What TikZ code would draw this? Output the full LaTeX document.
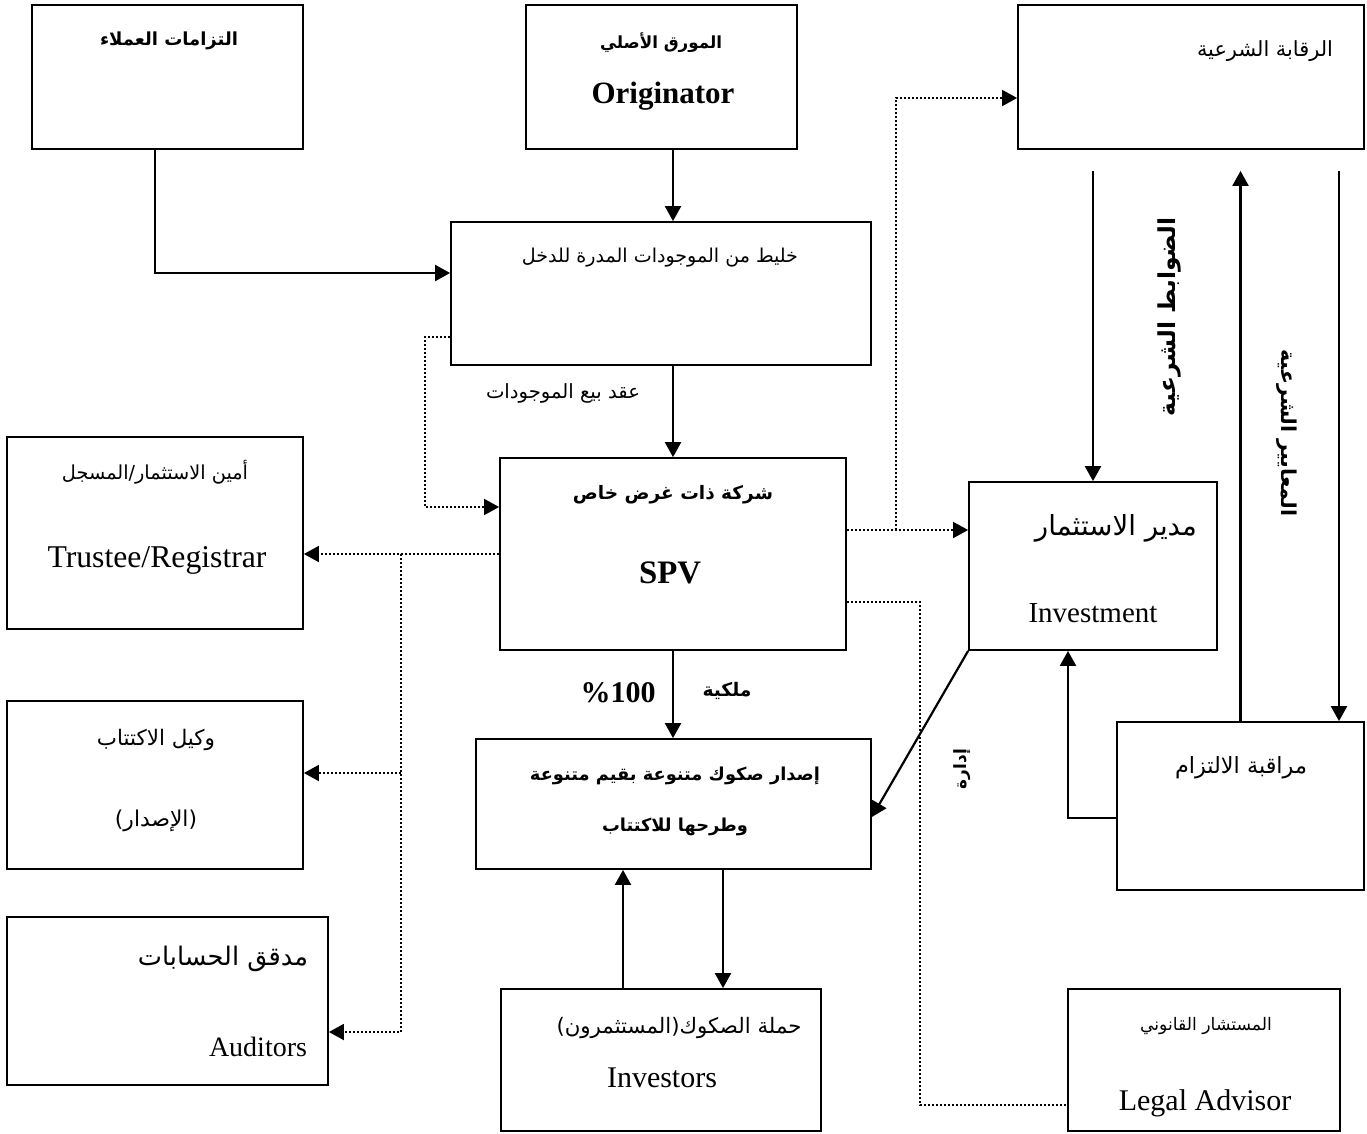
\documentclass[tikz,border=0pt]{standalone}
\usepackage{fontspec}
\usepackage{graphicx}
\setmainfont{Liberation Serif}
\newfontfamily\arabicfont[Script=Arabic]{DejaVu Sans}
\TeXXeTstate=1
\usetikzlibrary{arrows.meta,calc}

% Arabic labels, scaled to a given width
\newcommand\artxt[2]{\resizebox{#1}{!}{\arabicfont #2}}
\newcommand\artxtb[2]{\resizebox{#1}{!}{\arabicfont\bfseries #2}}

\tikzset{
  box/.style={draw, line width=1.8pt, inner sep=0pt, anchor=center},
  conn/.style={line width=2.2pt, -{Triangle[length=15pt,width=16pt]}},
  dots/.style={line width=1.8pt, dash pattern=on 1.8pt off 2.2pt},
  dotarrow/.style={dots, -{Triangle[length=15pt,width=16pt]}},
  lbl/.style={inner sep=0pt},
}

\begin{document}
\begin{tikzpicture}[x=1pt, y=-1pt]
\useasboundingbox[fill=white] (0,0) rectangle (1367,1133);

% ---- boxes ----
\node[box, minimum width=271pt, minimum height=144pt] (cust)  at (167.5,77)   {};
\node[box, minimum width=271pt, minimum height=144pt] (orig)  at (661.5,77)   {};
\node[box, minimum width=346pt, minimum height=144pt] (shar)  at (1191,77)    {};
\node[box, minimum width=420pt, minimum height=143pt] (pool)  at (661,293.5)  {};
\node[box, minimum width=346pt, minimum height=192pt] (spv)   at (673,554)    {};
\node[box, minimum width=248pt, minimum height=168pt] (invm)  at (1093,566)   {};
\node[box, minimum width=296pt, minimum height=192pt] (trus)  at (155,533)    {};
\node[box, minimum width=296pt, minimum height=168pt] (subs)  at (155,785)    {};
\node[box, minimum width=321pt, minimum height=168pt] (audi)  at (167.5,1001) {};
\node[box, minimum width=395pt, minimum height=130pt] (issu)  at (673.5,804)  {};
\node[box, minimum width=320pt, minimum height=142pt] (inv)   at (661,1060)   {};
\node[box, minimum width=272pt, minimum height=142pt] (legal) at (1204,1060)  {};
\node[box, minimum width=247pt, minimum height=168pt] (comp)  at (1240.5,806) {};

% ---- texts ----
\node[lbl] (tcust) at (169,41) {\artxtb{138pt}{\beginR التزامات العملاء\endR}};
\node[lbl] (torig1) at (661,43) {\artxtb{122pt}{\beginR المورق الأصلي\endR}};
\node[lbl, anchor=base] (torig2) at (663,103) {\fontsize{31}{36}\selectfont\bfseries Originator};
\node[lbl] (tshar) at (1265,51) {\artxt{136pt}{\beginR الرقابة الشرعية\endR}};
\node[lbl] (tpool) at (660,258) {\artxt{276pt}{\beginR خليط من الموجودات المدرة للدخل\endR}};
\node[lbl] (tsale) at (563,393) {\artxt{154pt}{\beginR عقد بيع الموجودات\endR}};
\node[lbl] (tspv1) at (673,495) {\artxtb{200pt}{\beginR شركة ذات غرض خاص\endR}};
\node[lbl, anchor=base] (tspv2) at (670,583) {\fontsize{32.8}{38}\selectfont\bfseries SPV};
\node[lbl] (town) at (727,691) {\artxtb{49pt}{\beginR ملكية\endR}};
\node[lbl, anchor=base] (tpct) at (618,702) {\fontsize{30}{36}\selectfont\bfseries \%100};
\node[lbl] (tinvm1) at (1116,528) {\artxt{162pt}{\beginR مدير الاستثمار\endR}};
\node[lbl, anchor=base] (tinvm2) at (1093,622) {\fontsize{29}{34}\selectfont Investment};
\node[lbl] (ttrus1) at (155,472) {\artxt{186pt}{\beginR أمين الاستثمار/المسجل\endR}};
\node[lbl, anchor=base] (ttrus2) at (157,567) {\fontsize{31.7}{36}\selectfont Trustee/Registrar};
\node[lbl] (tsubs1) at (156,740) {\artxt{118pt}{\beginR وكيل الاكتتاب\endR}};
\node[lbl] (tsubs2) at (156,821) {\artxt{82pt}{\beginR (الإصدار)\endR}};
\node[lbl] (taud1) at (223,959) {\artxt{170pt}{\beginR مدقق الحسابات\endR}};
\node[lbl, anchor=base] (taud2) at (258,1056) {\fontsize{28}{34}\selectfont Auditors};
\node[lbl] (tissu1) at (675,776) {\artxtb{290pt}{\beginR إصدار صكوك متنوعة بقيم متنوعة\endR}};
\node[lbl] (tissu2) at (675,827) {\artxtb{146pt}{\beginR وطرحها للاكتتاب\endR}};
\node[lbl] (tinv1) at (679,1028) {\artxt{245pt}{\beginR حملة الصكوك(المستثمرون)\endR}};
\node[lbl, anchor=base] (tinv2) at (662,1087) {\fontsize{30}{36}\selectfont Investors};
\node[lbl] (tcomp) at (1241,768) {\artxt{132pt}{\beginR مراقبة الالتزام\endR}};
\node[lbl] (tlegal1) at (1206,1026) {\artxt{132pt}{\beginR المستشار القانوني\endR}};
\node[lbl, anchor=base] (tlegal2) at (1205,1110) {\fontsize{30}{36}\selectfont Legal Advisor};
\node[lbl, rotate=90] (tctrl) at (1169,317) {\artxtb{199pt}{\beginR الضوابط الشرعية\endR}};
\node[lbl, rotate=-90] (tstd) at (1287,433) {\artxtb{167pt}{\beginR المعايير الشرعية\endR}};
\node[lbl, rotate=90] (tmgmt) at (962,769) {\artxtb{40pt}{\beginR إدارة\endR}};

% ---- solid connectors ----
\draw[conn] ([xshift=-12.5pt]cust.south) |- ([yshift=20.5pt]pool.west);
\coordinate (pt) at ([xshift=12pt]pool.north);
\draw[conn] (pt |- orig.south) -- (pt);
\draw[conn] (pool.south -| spv.north) -- (spv.north);
\draw[conn] (spv.south) -- (spv.south |- issu.north);
\draw[conn] (invm.south west) -- ([yshift=-13pt]issu.east);
\coordinate (i1) at ([xshift=-38pt]inv.north);
\draw[conn] (i1) -- (i1 |- issu.south);
\coordinate (i2) at ([xshift=62pt]inv.north);
\draw[conn] (i2 |- issu.south) -- (i2);
\coordinate (sb) at ([yshift=-21pt]shar.south);
\draw[conn] (sb -| invm.north) -- (invm.north);
\draw[conn] (comp.north) -- (comp.north |- sb);
\coordinate (c2) at ([xshift=98.5pt]comp.north);
\draw[conn] (c2 |- sb) -- (c2);
\draw[conn] ([yshift=-12pt]comp.west) -| ([xshift=-25pt]invm.south);

% ---- dotted connectors ----
\draw[dotarrow] ([yshift=-43.5pt]pool.west) -- ++(-25pt,0) |- ([yshift=47pt]spv.west);
\coordinate (sa) at ([yshift=24pt]spv.east);
\draw[dotarrow] (sa) -- (sa -| invm.west);
\coordinate (br1) at ([xshift=49pt]sa);
\draw[dotarrow] (br1) |- ([yshift=-21pt]shar.west);
\draw[dotarrow] (spv.west) -- (spv.west -| trus.east);
\coordinate (br2) at ([xshift=-98pt]spv.west);
\coordinate (s1) at ([yshift=12pt]subs.east);
\coordinate (s2) at ([yshift=-31pt]audi.east);
\draw[dotarrow] (br2) |- (s2);
\draw[dotarrow] (br2 |- s1) -- (s1);
\draw[dots] ([yshift=-48pt]spv.east) -- ++(73pt,0) |- ([yshift=-45pt]legal.west);
\end{tikzpicture}
\end{document}
